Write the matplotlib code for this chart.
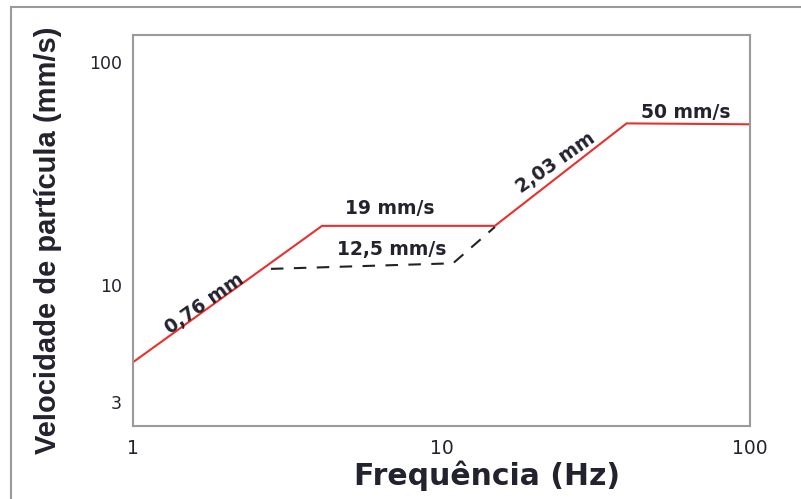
# Curva limite de velocidade de particula vs frequencia (escala log-log)
import matplotlib
matplotlib.use('Agg')
import matplotlib.pyplot as plt
from matplotlib.patches import Rectangle

# Dados
freq_limite = [1, 4.1, 14.9, 39.8, 100]
vel_limite = [4.5, 18.4, 18.4, 53, 52.5]

freq_tracejada = [2.8, 10.9, 14.9]
vel_tracejada = [11.8, 12.5, 18.2]

x_ticks = [1, 10, 100]
y_ticks = [3, 10, 100]

# Rotulos sobre as linhas: (texto, x, y, rotacao)
rotulos = [
    ('0,76 mm', 1.71, 8.2, 35),
    ('19 mm/s', 6.8, 22.1, 0),
    ('12,5 mm/s', 6.9, 14.4, 0),
    ('2,03 mm', 23.5, 35.2, 35),
    ('50 mm/s', 62, 59, 0),
]

txt_color = '#23232f'

fig = plt.figure(figsize=(8.01, 4.99), dpi=100)
ax = fig.add_axes([133/801, 1 - 426/499, 617/801, 391/499])

ax.plot(freq_limite, vel_limite, color='#e8302c', lw=1.5)
ax.plot(freq_tracejada, vel_tracejada, color='#222222', lw=1.5,
        linestyle=(0, (6, 5)))

ax.set_xscale('log')
ax.set_yscale('log')
ax.set_xlim(1, 100)
ax.set_ylim(2.33, 132)

ax.set_xticks(x_ticks)
ax.set_xticklabels([str(t) for t in x_ticks])
ax.set_yticks(y_ticks)
ax.set_yticklabels([str(t) for t in y_ticks])
ax.minorticks_off()
ax.tick_params(axis='x', length=0, pad=9, labelsize=13.5, labelcolor=txt_color)
ax.tick_params(axis='y', length=0, pad=8, labelsize=12.5, labelcolor=txt_color)

for s in ax.spines.values():
    s.set_color('#9a9a9a')
    s.set_linewidth(1.5)

for texto, x, y, rot in rotulos:
    ax.text(x, y, texto, rotation=rot, ha='center', va='center',
            fontsize=13.5, fontweight='bold', color=txt_color,
            family='DejaVu Sans', rotation_mode='anchor')

fig.text(487/801, 1 - 476/499, 'Frequência (Hz)', ha='center', va='center',
         fontsize=21.5, fontweight='bold', color=txt_color, family='DejaVu Sans')
fig.text(48/801, 1 - 240/499, 'Velocidade de partícula (mm/s)', rotation=90,
         ha='center', va='center', fontsize=21, fontweight='bold',
         color=txt_color, family='Liberation Sans')

# moldura cortada em volta da figura
fig.patches.append(Rectangle((11/801, -0.1), 1.2, 1.1 - 7/499,
                             transform=fig.transFigure, fill=False,
                             edgecolor='#9a9a9a', lw=1.5))

fig.savefig('out.png', dpi=100)
